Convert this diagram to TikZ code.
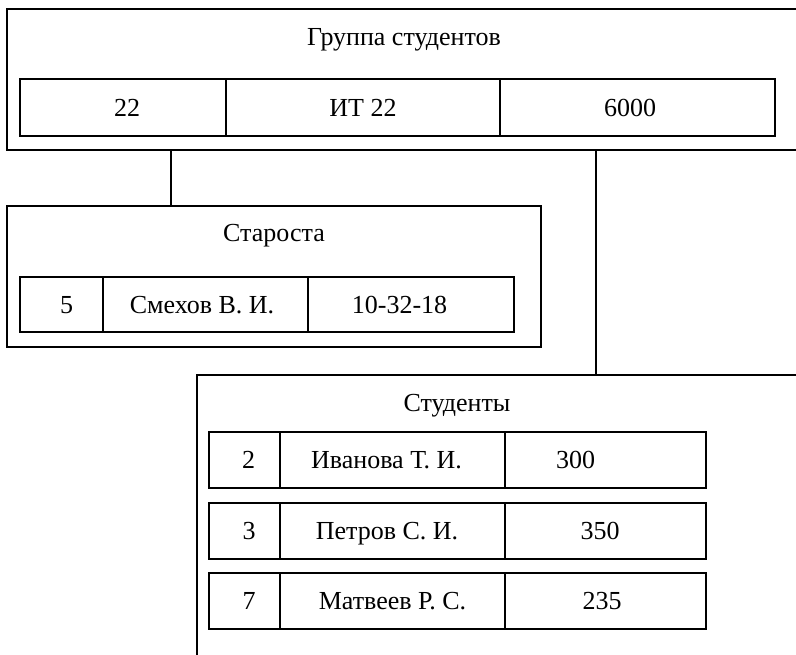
\documentclass[tikz,border=0pt]{standalone}
\usepackage{fontspec}
\setmainfont{Liberation Serif}
\usetikzlibrary{positioning}

\begin{document}
\begin{tikzpicture}[x=1pt,y=-1pt,line width=1.8pt,font=\fontsize{26}{30}\selectfont,
  title/.style={inner sep=0pt,text height=17pt,text depth=0pt},
  frame/.style={draw,rectangle,anchor=north west,inner sep=0pt,outer sep=0pt},
  cell/.style={draw,rectangle,anchor=north west,inner sep=0pt,outer sep=0pt,
    text height=17pt,text depth=0pt}]
\clip (0,0) rectangle (796,654);
% Группа студентов
\node[frame,minimum width=830pt,minimum height=141pt] (grp) at (7,9) {};
\node[title] (grptitle) at (404,37) {Группа студентов};
\node[cell,minimum width=206pt,minimum height=57pt] (grpa) at (20,79) {\kern8pt 22};
\node[cell,minimum width=274pt,minimum height=57pt,right=0pt of grpa] (grpb) {ИТ 22};
\node[cell,minimum width=275pt,minimum height=57pt,right=0pt of grpb] (grpc) {6000\kern15pt};
% Староста
\node[frame,minimum width=534pt,minimum height=141pt] (star) at (7,206) {};
\node[title] (startitle) at (274,233) {Староста};
\node[cell,minimum width=83pt,minimum height=55pt] (stara) at (20,277) {\kern10pt 5};
\node[cell,minimum width=205pt,minimum height=55pt,right=0pt of stara] (starb) {Смехов В. И.\kern7pt};
\node[cell,minimum width=206pt,minimum height=55pt,right=0pt of starb] (starc) {10-32-18\kern23pt};
% Студенты
\node[frame,minimum width=700pt,minimum height=400pt] (stud) at (197,375) {};
\node[title] (studtitle) at (457,403) {Студенты};
\node[cell,minimum width=71pt,minimum height=56pt] (stud1a) at (209,432) {\kern8pt 2};
\node[cell,minimum width=225pt,minimum height=56pt,right=0pt of stud1a] (stud1b) {Иванова Т. И.\kern12pt};
\node[cell,minimum width=201pt,minimum height=56pt,right=0pt of stud1b] (stud1c) {300\kern60pt};
\node[cell,minimum width=71pt,minimum height=56pt] (stud2a) at (209,503) {\kern9pt 3};
\node[cell,minimum width=225pt,minimum height=56pt,right=0pt of stud2a] (stud2b) {Петров С. И.\kern11pt};
\node[cell,minimum width=201pt,minimum height=56pt,right=0pt of stud2b] (stud2c) {350\kern11pt};
\node[cell,minimum width=71pt,minimum height=56pt] (stud3a) at (209,573) {\kern9pt 7};
\node[cell,minimum width=225pt,minimum height=56pt,right=0pt of stud3a] (stud3b) {Матвеев Р. С.};
\node[cell,minimum width=201pt,minimum height=56pt,right=0pt of stud3b] (stud3c) {235\kern7pt};
% links
\draw (grp.south -| 171,0) -- (star.north -| 171,0);
\draw (grp.south -| 596,0) -- (stud.north -| 596,0);
\end{tikzpicture}
\end{document}
